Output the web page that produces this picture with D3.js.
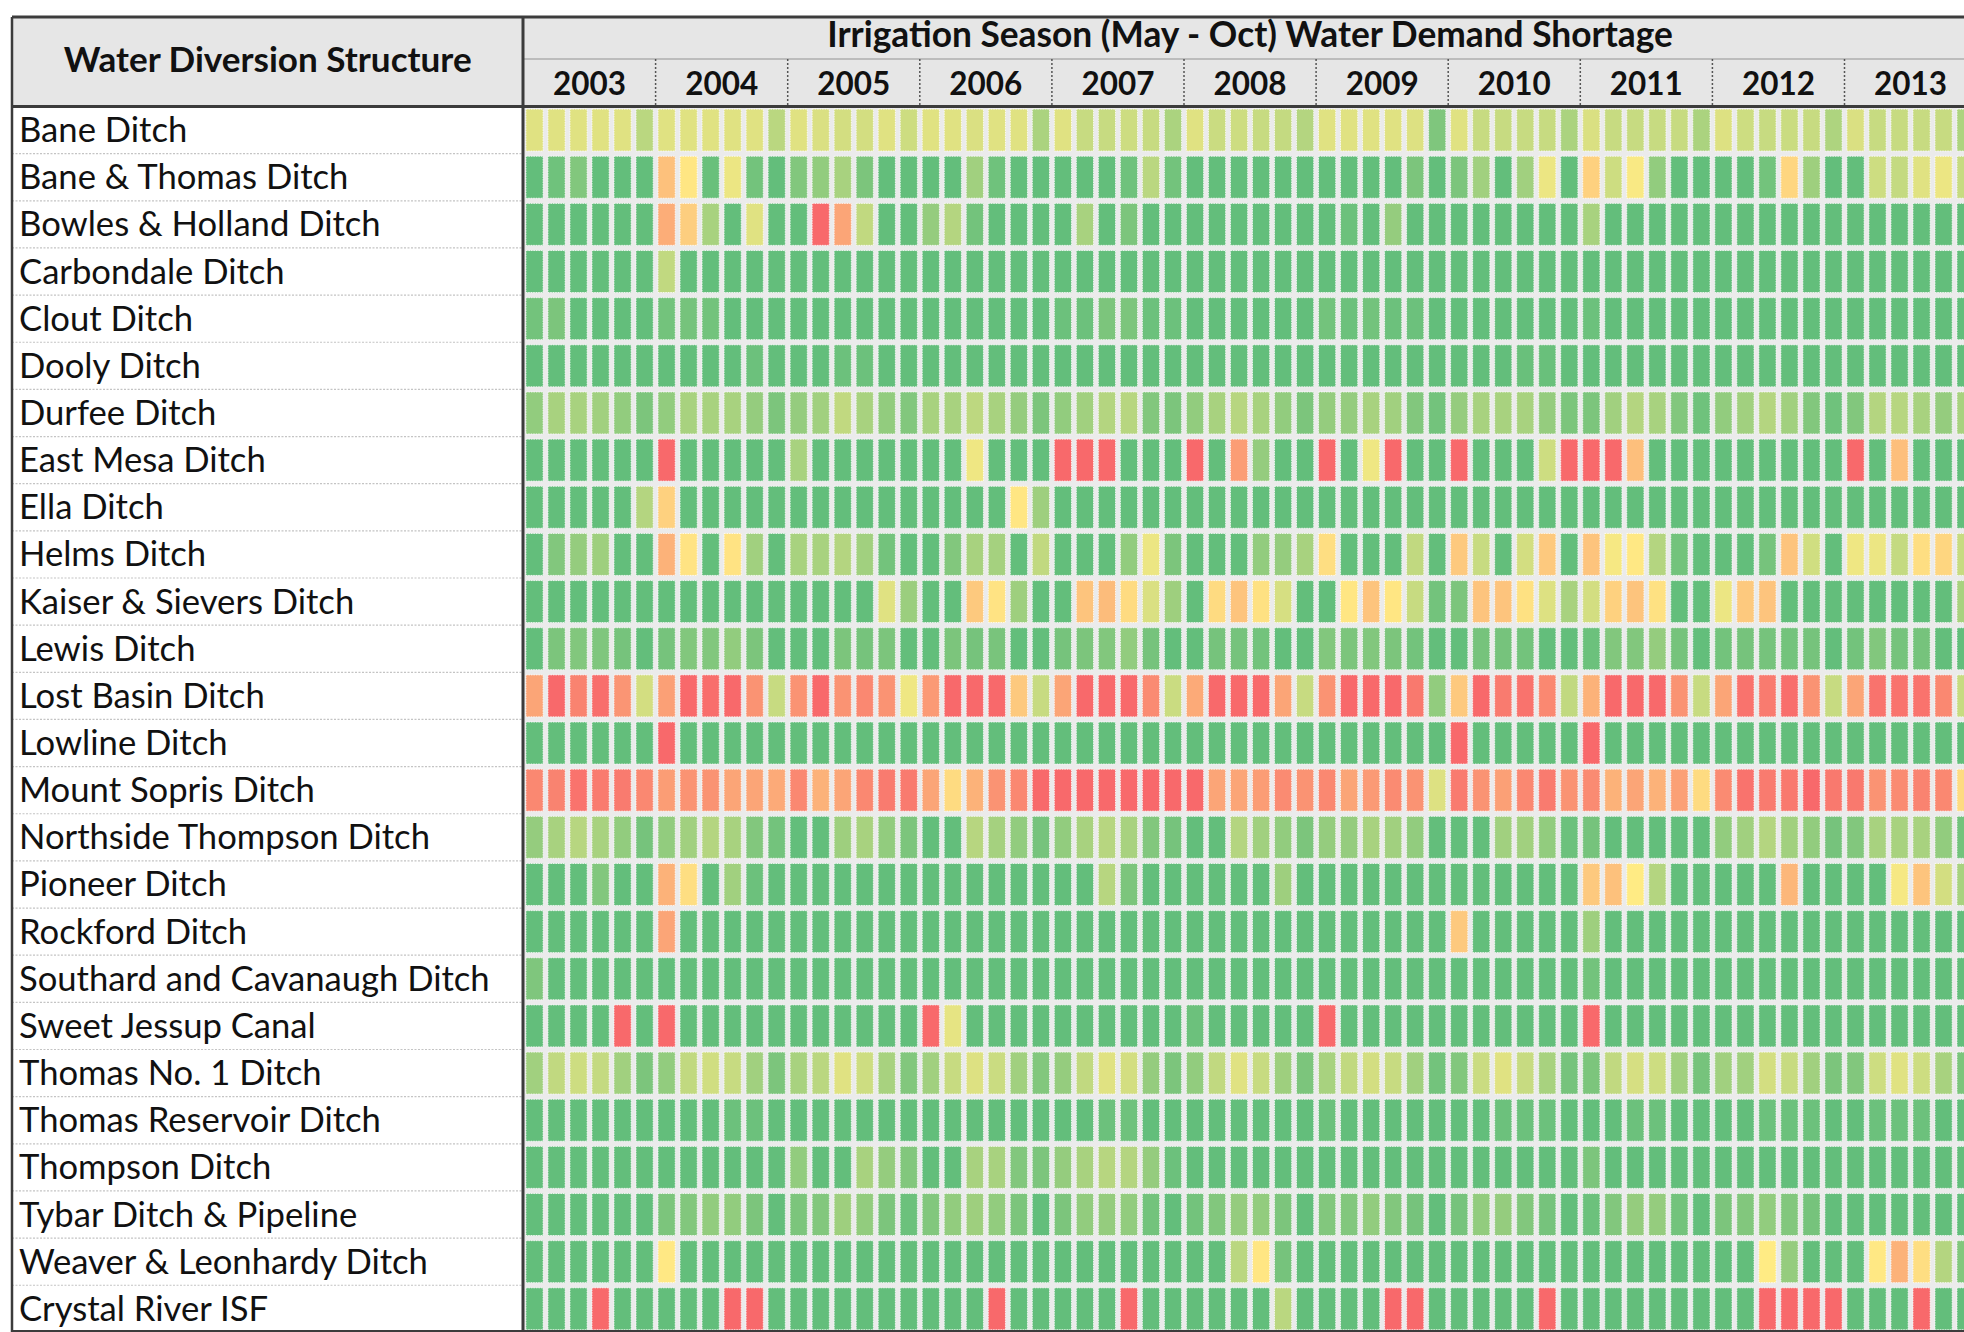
<!DOCTYPE html>
<meta charset="utf-8">
<style>
  body { margin: 0; background: #ffffff; overflow: hidden; }
  text { font-family: Lato, "Open Sans", sans-serif; fill: #111111; }
</style>
<body>
<div id="chart"></div>
<script src="https://d3js.org/d3.v7.min.js"></script>
<script>

var structures = [
  "Bane Ditch", "Bane & Thomas Ditch", "Bowles & Holland Ditch", "Carbondale Ditch",
  "Clout Ditch", "Dooly Ditch", "Durfee Ditch", "East Mesa Ditch", "Ella Ditch",
  "Helms Ditch", "Kaiser & Sievers Ditch", "Lewis Ditch", "Lost Basin Ditch",
  "Lowline Ditch", "Mount Sopris Ditch", "Northside Thompson Ditch", "Pioneer Ditch",
  "Rockford Ditch", "Southard and Cavanaugh Ditch", "Sweet Jessup Canal",
  "Thomas No. 1 Ditch", "Thomas Reservoir Ditch", "Thompson Ditch",
  "Tybar Ditch & Pipeline", "Weaver & Leonhardy Ditch", "Crystal River ISF"
];

var years = [2003, 2004, 2005, 2006, 2007, 2008, 2009, 2010, 2011, 2012, 2013];
var months = ["May", "Jun", "Jul", "Aug", "Sep", "Oct"];

// estimated shortage (% of demand), one row per structure, May-Oct of each year
var shortage = [
  [40,40,40,40,40,28, 40,40,40,40,40,28, 40,38,36,36,40,34, 40,40,38,40,40,23, 40,32,32,34,32,23, 40,33,34,32,31,26, 40,40,40,40,39,9, 40,32,32,32,32,23, 38,32,32,32,32,23, 39,34,32,33,32,24, 38,32,32,32,32,24],
  [0,4,10,0,0,0, 66,52,2,44,5,0, 10,15,22,8,0,0, 0,0,20,4,0,0, 0,0,0,4,28,5, 0,0,0,0,0,0, 0,0,0,0,8,0, 8,20,0,20,44,0, 60,34,48,15,0,0, 0,0,5,58,19,0, 0,34,31,40,44,32],
  [0,0,0,0,0,0, 74,61,22,0,40,0, 0,100,77,30,0,0, 16,26,5,0,0,0, 0,22,0,8,0,0, 0,0,0,0,0,0, 0,3,0,16,0,0, 0,0,0,0,0,0, 22,0,0,0,0,0, 0,0,0,0,0,0, 0,0,0,0,0,0],
  [0,0,0,0,0,0, 30,0,0,0,0,0, 0,0,0,0,0,0, 0,0,0,0,0,0, 0,0,0,0,0,0, 0,0,0,0,0,0, 0,0,0,0,0,0, 0,0,0,0,0,0, 0,0,0,0,0,0, 0,0,0,0,0,0, 0,0,0,0,0,0],
  [5,8,0,0,0,0, 5,6,5,0,0,0, 0,0,0,0,0,0, 0,0,0,0,0,0, 3,3,8,8,3,3, 0,0,0,0,0,0, 5,3,5,3,3,0, 0,0,0,0,0,0, 3,0,0,0,0,0, 0,0,0,0,0,0, 0,0,0,0,0,0],
  [0,0,0,0,0,0, 0,0,0,0,3,0, 0,0,3,3,0,0, 0,0,0,0,0,0, 0,0,0,0,0,0, 0,0,0,0,0,0, 0,0,0,0,0,0, 0,0,0,2,2,0, 0,0,0,0,0,0, 0,0,0,0,0,0, 0,0,0,0,0,0],
  [15,22,22,20,15,8, 15,22,22,22,16,8, 16,20,30,22,15,10, 22,22,29,22,16,8, 15,20,26,27,10,8, 15,22,27,22,15,8, 16,16,22,20,10,5, 16,22,22,22,16,8, 8,20,26,22,10,4, 15,20,26,20,10,4, 10,26,27,22,16,22],
  [0,0,0,0,0,0, 100,0,0,0,0,0, 22,0,0,0,0,0, 0,0,45,0,0,0, 100,100,100,0,0,0, 100,0,80,16,0,0, 100,0,45,100,0,0, 100,0,0,0,34,100, 100,100,67,0,0,0, 0,0,0,0,0,0, 100,0,67,0,0,0],
  [0,0,0,0,0,26, 60,0,0,0,0,0, 0,0,0,0,0,0, 0,0,0,0,52,19, 0,0,0,0,0,0, 0,0,0,0,0,0, 0,0,0,0,0,0, 0,0,0,0,0,0, 0,0,0,0,0,0, 0,0,0,0,0,0, 0,0,0,0,0,0],
  [0,10,16,19,0,0, 72,53,0,53,20,0, 22,22,26,20,5,0, 0,10,22,21,0,30, 0,0,0,15,44,8, 0,0,0,15,16,22, 55,0,0,0,30,0, 63,32,0,36,63,0, 65,47,51,26,5,0, 0,0,6,65,35,0, 45,44,31,55,58,32],
  [0,0,0,0,0,0, 0,0,0,0,0,0, 0,0,0,0,40,18, 0,0,63,53,19,0, 0,65,68,56,38,19, 0,56,65,54,37,0, 0,52,65,52,32,5, 8,65,65,54,39,22, 36,60,65,54,0,0, 44,63,65,0,0,0, 0,0,0,0,0,22],
  [0,8,10,9,6,0, 6,10,10,15,8,0, 0,0,8,6,8,0, 0,8,6,7,0,0, 6,8,10,15,6,0, 0,6,6,5,0,0, 10,8,10,8,5,0, 0,6,6,5,0,0, 3,10,10,16,6,0, 5,6,6,5,6,0, 5,10,6,6,0,0],
  [77,100,90,98,83,36, 79,100,98,100,84,32, 84,100,84,88,84,45, 81,100,100,100,63,32, 77,100,100,100,87,33, 75,100,100,100,77,32, 84,100,100,100,94,15, 63,100,93,96,88,30, 72,100,100,100,84,32, 77,96,93,98,84,32, 77,96,96,96,88,32],
  [0,0,0,0,0,0, 100,0,0,0,0,0, 0,0,0,0,0,0, 0,0,0,0,0,0, 0,0,0,0,0,0, 0,0,0,0,0,0, 0,0,0,0,0,0, 100,0,0,0,0,0, 100,0,0,0,0,0, 0,0,0,0,0,0, 0,0,0,0,0,0],
  [88,90,96,93,93,88, 80,84,84,77,77,75, 88,72,77,88,93,93, 77,56,72,84,88,100, 100,100,100,100,100,100, 100,77,77,80,87,84, 88,77,81,87,84,39, 93,84,79,88,93,84, 87,72,77,72,79,56, 87,96,93,94,100,94, 94,84,87,90,88,56],
  [16,22,27,22,15,6, 15,20,26,22,10,5, 0,0,19,22,15,8, 0,0,27,21,15,6, 15,22,27,22,10,6, 0,0,26,20,15,8, 16,16,22,20,15,0, 0,0,20,20,15,3, 6,0,0,0,0,0, 15,20,26,20,15,6, 10,22,22,22,15,5],
  [0,0,0,10,0,0, 72,55,0,20,3,0, 0,0,0,0,0,0, 0,0,0,0,0,0, 0,0,27,8,0,0, 0,0,0,0,19,0, 0,0,0,0,0,0, 0,0,0,0,0,0, 63,66,50,26,0,0, 0,0,0,70,0,0, 0,0,47,65,36,22],
  [0,0,0,0,0,0, 77,0,0,0,0,0, 0,0,0,0,0,0, 0,0,0,0,0,0, 0,0,0,0,0,0, 0,0,0,0,0,0, 0,0,0,0,0,0, 63,0,0,0,0,0, 19,0,0,0,0,0, 0,0,0,0,0,0, 0,0,0,0,0,0],
  [9,0,0,0,0,0, 0,0,0,0,0,0, 0,0,0,0,0,0, 0,0,0,0,0,0, 0,0,0,0,0,0, 0,0,0,0,0,0, 0,0,0,0,0,0, 0,0,0,0,0,0, 5,0,0,0,0,0, 0,0,0,0,0,0, 0,0,0,0,0,0],
  [0,0,0,0,100,0, 100,0,0,0,0,0, 0,0,0,0,0,0, 100,42,0,0,0,0, 0,0,0,0,0,0, 3,0,0,0,0,0, 100,0,0,0,0,0, 0,0,0,0,0,0, 100,0,0,0,0,0, 0,0,0,0,0,0, 0,0,0,0,0,0],
  [20,30,34,31,20,8, 15,30,35,32,20,8, 22,28,40,34,22,10, 20,32,39,33,20,10, 16,30,40,36,16,8, 15,30,40,32,19,8, 22,30,36,32,20,5, 10,33,40,32,22,6, 8,30,37,34,20,6, 20,20,36,32,20,8, 10,34,40,34,22,8],
  [0,0,0,0,0,0, 0,0,0,3,3,0, 0,0,0,0,0,0, 0,0,0,0,0,0, 0,0,3,4,0,0, 0,0,0,0,0,0, 3,0,0,0,0,0, 0,0,3,3,3,0, 0,0,3,3,0,0, 0,0,3,3,3,0, 0,3,3,3,0,0],
  [0,0,0,0,0,0, 0,0,0,0,0,0, 15,0,0,22,16,10, 0,0,22,22,10,8, 16,22,27,26,16,3, 0,0,0,0,0,0, 0,0,0,0,0,0, 0,0,0,0,0,0, 8,0,0,0,0,0, 0,0,0,0,0,0, 0,0,0,0,0,0],
  [0,0,0,0,0,0, 8,10,15,15,8,0, 8,10,19,15,8,3, 10,15,19,15,8,0, 8,15,16,15,5,0, 5,10,16,15,8,0, 10,10,15,10,6,0, 6,15,16,10,6,0, 3,10,16,16,5,0, 8,10,15,10,6,0, 0,0,0,0,0,0],
  [0,0,0,0,0,0, 51,0,0,0,0,0, 0,0,0,0,0,0, 0,0,0,0,0,0, 0,0,0,0,0,0, 0,0,28,52,6,0, 0,0,0,0,0,0, 0,0,0,0,0,0, 0,0,0,0,0,0, 0,0,50,16,0,0, 0,51,72,55,26,10],
  [0,0,0,100,0,0, 0,0,0,100,100,0, 0,0,0,0,0,0, 0,0,0,100,0,0, 0,0,0,100,0,0, 0,0,0,0,28,0, 0,0,0,100,100,0, 0,0,0,0,100,0, 0,0,0,0,0,0, 0,0,100,100,100,100, 0,0,0,100,0,0]
];

var svg_dx = 1964,
    svg_dy = 1332;

// table frame (px)
var frame = {left: 12, top: 17, split: 523.5, titleLine: 59, head: 106.5},
    yearW = 132.1,
    rowH = 47.15;

var columns = [];
years.forEach(yr => months.forEach(m => columns.push(yr + "-" + m)));

var x = d3.scaleBand()
          .domain(columns)
          .range([frame.split, frame.split + columns.length * yearW / months.length])
          .paddingInner(0.22)
          .paddingOuter(0.11);

var xYear = d3.scaleBand()
              .domain(years)
              .range([frame.split, frame.split + years.length * yearW]);

var y = d3.scaleBand()
          .domain(structures)
          .range([frame.head, frame.head + structures.length * rowH])
          .paddingInner(0.11)
          .paddingOuter(0.055);

var color = d3.scaleLinear()
              .domain([0, 50, 100])
              .range(["#63BE7B", "#FFEB84", "#F8696B"]);

var svg = d3.select("#chart")
            .append("svg")
            .attr("width", svg_dx)
            .attr("height", svg_dy);

// header backgrounds
svg.append("rect")
   .attr("x", frame.left).attr("y", frame.top)
   .attr("width", svg_dx - frame.left).attr("height", frame.head - frame.top)
   .attr("fill", "#e6e6e6");

// grid background
svg.append("rect")
   .attr("x", frame.split).attr("y", frame.head)
   .attr("width", svg_dx - frame.split).attr("height", svg_dy - frame.head)
   .attr("fill", "#ebebeb");

// cells
var cells = [];
structures.forEach((s, i) => {
    columns.forEach((c, j) => cells.push({structure: s, column: c, value: shortage[i][j]}));
});

svg.append("g")
   .selectAll("rect")
   .data(cells)
   .enter()
   .append("rect")
   .attr("x", d => x(d.column))
   .attr("y", d => y(d.structure))
   .attr("width", x.bandwidth())
   .attr("height", y.bandwidth())
   .attr("fill", d => color(d.value))
   .attr("stroke", "#ffffff")
   .attr("stroke-width", 0.8)
   .attr("stroke-dasharray", "1.5,1");

// row separators in the label column
svg.append("g")
   .selectAll("line")
   .data(d3.range(1, structures.length))
   .enter()
   .append("line")
   .attr("x1", frame.left).attr("x2", frame.split)
   .attr("y1", i => frame.head + i * rowH)
   .attr("y2", i => frame.head + i * rowH)
   .attr("stroke", "#c4c4c4")
   .attr("stroke-width", 1.2)
   .attr("stroke-dasharray", "2,1.5");

// title row dotted line and year dividers
svg.append("line")
   .attr("x1", frame.split).attr("x2", svg_dx)
   .attr("y1", frame.titleLine).attr("y2", frame.titleLine)
   .attr("stroke", "#777").attr("stroke-width", 1.5)
   .attr("stroke-dasharray", "1,1");

svg.append("g")
   .selectAll("line")
   .data(years.slice(1))
   .enter()
   .append("line")
   .attr("x1", d => xYear(d)).attr("x2", d => xYear(d))
   .attr("y1", frame.titleLine).attr("y2", frame.head)
   .attr("stroke", "#555").attr("stroke-width", 1.5)
   .attr("stroke-dasharray", "2,2");

// frame lines
var border = svg.append("g").attr("stroke", "#3c3c3c");
border.append("line").attr("x1", frame.left).attr("x2", svg_dx)
      .attr("y1", frame.top).attr("y2", frame.top).attr("stroke-width", 3);
border.append("line").attr("x1", frame.left).attr("x2", svg_dx)
      .attr("y1", frame.head).attr("y2", frame.head).attr("stroke-width", 3);
border.append("line").attr("x1", frame.left).attr("x2", frame.left)
      .attr("y1", frame.top).attr("y2", svg_dy).attr("stroke-width", 2.5);
border.append("line").attr("x1", frame.split - 0.5).attr("x2", frame.split - 0.5)
      .attr("y1", frame.top).attr("y2", svg_dy).attr("stroke-width", 3);
border.append("line").attr("x1", frame.left).attr("x2", svg_dx)
      .attr("y1", svg_dy - 1).attr("y2", svg_dy - 1).attr("stroke-width", 2);

// scale a text so it reaches a measured width
function fitSize(sel, width) {
    var w = sel.node().getComputedTextLength();
    return parseFloat(sel.attr("font-size")) * width / w;
}

// headers
var head = svg.append("text")
              .attr("x", (frame.left + frame.split) / 2)
              .attr("y", 58)
              .attr("text-anchor", "middle")
              .attr("dominant-baseline", "central")
              .attr("font-weight", "bold")
              .attr("font-size", 30)
              .text("Water Diversion Structure");
head.attr("font-size", fitSize(head, 408));

var title = svg.append("text")
               .attr("x", xYear.range()[0] + (xYear.range()[1] - xYear.range()[0]) / 2)
               .attr("y", 33.5)
               .attr("text-anchor", "middle")
               .attr("dominant-baseline", "central")
               .attr("font-weight", "bold")
               .attr("font-size", 30)
               .text("Irrigation Season (May - Oct) Water Demand Shortage");
title.attr("font-size", fitSize(title, 846));

var yearLabels = svg.append("g")
                    .selectAll("text")
                    .data(years)
                    .enter()
                    .append("text")
                    .attr("x", d => xYear(d) + xYear.bandwidth() / 2)
                    .attr("y", 82.5)
                    .attr("text-anchor", "middle")
                    .attr("dominant-baseline", "central")
                    .attr("font-weight", "bold")
                    .attr("font-size", 30)
                    .text(d => d);
yearLabels.attr("font-size", fitSize(d3.select(yearLabels.node()), 73));

// structure labels
var labels = svg.append("g")
                .selectAll("text")
                .data(structures)
                .enter()
                .append("text")
                .attr("x", 19)
                .attr("y", d => y(d) + y.bandwidth() / 2 - 1.5)
                .attr("dominant-baseline", "central")
                .attr("font-size", 34)
                .text(d => d);
var longest = labels.filter(d => d === "Southard and Cavanaugh Ditch");
labels.attr("font-size", fitSize(longest, 471));

</script>
</body>
